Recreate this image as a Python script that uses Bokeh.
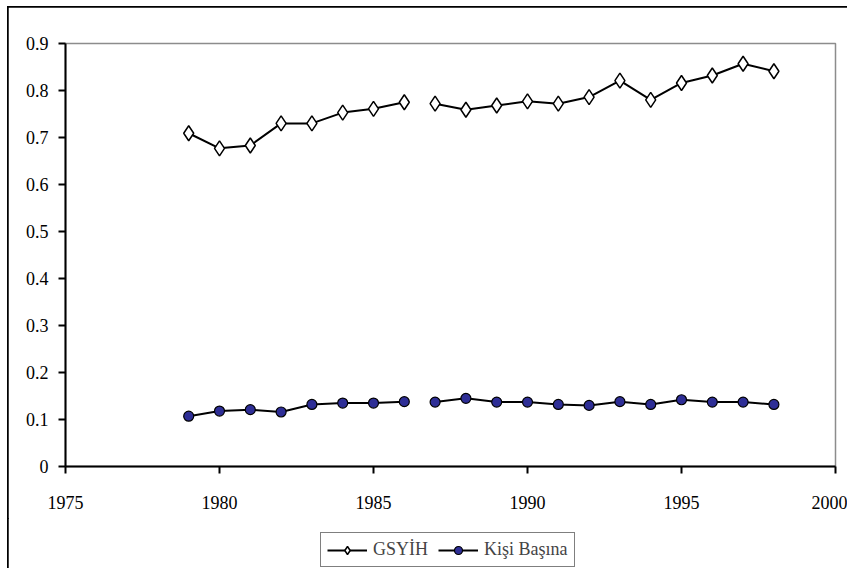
from bokeh.plotting import figure
from bokeh.models import Legend, LegendItem, FixedTicker, Range1d
from bokeh.layouts import column
from bokeh.embed import file_html
from bokeh.resources import INLINE

years = [1979, 1980, 1981, 1982, 1983, 1984, 1985, 1986,
         1987, 1988, 1989, 1990, 1991, 1992, 1993, 1994, 1995, 1996, 1997, 1998]
gsyih = [0.709, 0.677, 0.683, 0.730, 0.730, 0.753, 0.761, 0.775,
         0.772, 0.759, 0.768, 0.777, 0.772, 0.786, 0.821, 0.780, 0.816, 0.832, 0.857, 0.841]
kisi = [0.107, 0.118, 0.121, 0.116, 0.132, 0.135, 0.135, 0.138,
        0.137, 0.145, 0.137, 0.137, 0.132, 0.130, 0.138, 0.132, 0.142, 0.137, 0.137, 0.132]
x_ticks = [1975, 1980, 1985, 1990, 1995, 2000]
y_ticks = [0, 0.1, 0.2, 0.3, 0.4, 0.5, 0.6, 0.7, 0.8, 0.9]
split = 8  # break in the series between 1986 and 1987
names = ["GSYİH", "Kişi Başına"]

FONT = "Liberation Serif"
BLUE = "#2e2e96"


def draw(fig):
    la = fig.line(years[:split], gsyih[:split], line_color="black", line_width=2)
    fig.line(years[split:], gsyih[split:], line_color="black", line_width=2)
    ma = fig.scatter(years, gsyih, marker="diamond", size=15, fill_color="white",
                     line_color="black", line_width=1.5)
    lb = fig.line(years[:split], kisi[:split], line_color="black", line_width=2)
    fig.line(years[split:], kisi[split:], line_color="black", line_width=2)
    mb = fig.scatter(years, kisi, marker="circle", size=10, fill_color=BLUE,
                     line_color="black", line_width=1.2)
    return (la, ma), (lb, mb)


p = figure(width=839, height=511, output_backend="svg", toolbar_location=None,
           x_range=Range1d(1975, 2000), y_range=Range1d(0, 0.9),
           min_border_left=57, min_border_right=12, min_border_top=36, min_border_bottom=52)
p.xgrid.visible = False
p.ygrid.visible = False
p.outline_line_color = "#8c8c8c"
p.outline_line_width = 1.5
p.background_fill_color = "white"
p.border_fill_color = "white"

for ax in (p.xaxis[0], p.yaxis[0]):
    ax.axis_line_color = "black"
    ax.axis_line_width = 2
    ax.major_tick_line_color = "black"
    ax.major_tick_line_width = 2
    ax.major_tick_out = 7
    ax.major_tick_in = 0
    ax.minor_tick_out = 0
    ax.minor_tick_in = 0
    ax.major_label_text_font = FONT
    ax.major_label_text_font_size = "18px"
    ax.major_label_text_color = "black"

p.xaxis[0].ticker = FixedTicker(ticks=x_ticks)
p.yaxis[0].ticker = FixedTicker(ticks=y_ticks)
p.xaxis[0].major_label_standoff = 22
p.yaxis[0].major_label_standoff = 10
p.yaxis[0].major_label_overrides = {0: "0"}

draw(p)

# legend strip below the chart (its own renderers sit outside its ranges)
q = figure(width=839, height=50, output_backend="svg", toolbar_location=None,
           x_range=Range1d(0, 1), y_range=Range1d(0, 1),
           min_border_left=0, min_border_right=0, min_border_top=0, min_border_bottom=0)
q.axis.visible = False
q.grid.visible = False
q.outline_line_color = None
q.border_fill_color = "white"
(ga, gb) = draw(q)

legend = Legend(items=[LegendItem(label=names[0], renderers=list(ga)),
                       LegendItem(label=names[1], renderers=list(gb))],
                orientation="horizontal", location=(255, 1),
                border_line_color="black", border_line_width=1.5,
                label_text_font=FONT, label_text_font_size="18px",
                glyph_width=40, glyph_height=20, label_standoff=6, spacing=10,
                padding=6, margin=0, background_fill_alpha=1)
q.add_layout(legend, "center")

layout = column(p, q, spacing=0)
layout.styles = {
    "padding-left": "8px", "padding-top": "7px",
    "background": "linear-gradient(#000, #000) 7px 6px / 2px 100% no-repeat, "
                  "linear-gradient(#000, #000) 7px 6px / 100% 2px no-repeat, white",
}

open("out.html", "w").write(file_html(layout, INLINE))
